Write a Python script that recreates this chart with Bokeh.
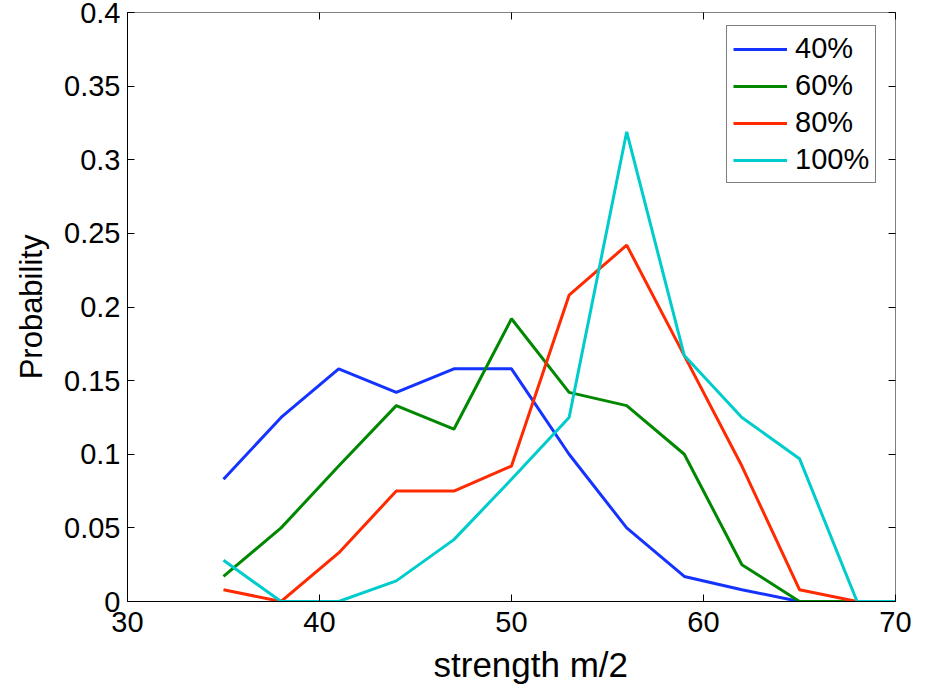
from bokeh.plotting import figure
from bokeh.models import FixedTicker, LinearAxis, Range1d, Title
from bokeh.embed import file_html
from bokeh.resources import INLINE

# ---- data ----
strength = [35, 38, 41, 44, 47, 50, 53, 56, 59, 62, 65, 68, 71]
p40 = [0.083, 0.125, 0.158, 0.142, 0.158, 0.158, 0.100, 0.050, 0.017, 0.008, 0.0, 0.0, 0.0]
p60 = [0.017, 0.050, 0.092, 0.133, 0.117, 0.192, 0.142, 0.133, 0.100, 0.025, 0.0, 0.0, 0.0]
p80 = [0.008, 0.0, 0.033, 0.075, 0.075, 0.092, 0.208, 0.242, 0.167, 0.092, 0.008, 0.0, 0.0]
p100 = [0.028, 0.0, 0.0, 0.014, 0.042, 0.083, 0.125, 0.319, 0.167, 0.125, 0.097, 0.0, 0.0]
series_names = ["40%", "60%", "80%", "100%"]
series_colors = ["#1433ff", "#008800", "#ff2a00", "#00cccc"]

x_ticks = [30, 40, 50, 60, 70]
x_tick_labels = ["30", "40", "50", "60", "70"]
y_ticks = [0, 0.05, 0.1, 0.15, 0.2, 0.25, 0.3, 0.35, 0.4]
y_tick_labels = ["0", "0.05", "0.1", "0.15", "0.2", "0.25", "0.3", "0.35", "0.4"]
x_title = "strength m/2"
y_title = "Probability"

FONT = "Liberation Sans"

p = figure(width=927, height=697, output_backend="svg", toolbar_location=None,
           x_range=Range1d(30, 70), y_range=Range1d(0, 0.4),
           min_border_left=127, min_border_right=32, min_border_top=12, min_border_bottom=96)

for ys, name, col in zip([p40, p60, p80, p100], series_names, series_colors):
    p.line(strength, ys, line_color=col, line_width=3, legend_label=name)

p.xgrid.visible = False
p.ygrid.visible = False
p.outline_line_color = "#808080"
p.outline_line_width = 1
p.background_fill_color = "white"
p.border_fill_color = "white"

def style_axis(ax, ticks, labels, show_labels=True):
    ax.ticker = FixedTicker(ticks=ticks)
    ax.major_tick_in = 7
    ax.major_tick_out = 0
    ax.minor_tick_in = 0
    ax.minor_tick_out = 0
    ax.axis_line_color = "black"
    ax.major_tick_line_color = "black"
    ax.major_label_text_font = FONT
    if show_labels:
        ax.major_label_overrides = {t: l for t, l in zip(ticks, labels)}
        ax.major_label_text_font_size = "29px"
        ax.major_label_text_color = "black"
    else:
        ax.major_label_text_font_size = "1px"
        ax.major_label_text_color = None
        ax.major_label_standoff = 0
        ax.axis_line_color = None

xa = p.xaxis[0]
style_axis(xa, x_ticks, x_tick_labels)
xa.major_label_standoff = 10

# x title: the reference places it a little right of the axis centre
xt = Title(text=x_title, align="left", offset=306,
           text_font=FONT, text_font_size="35px", text_font_style="normal",
           text_color="black", standoff=17)
p.add_layout(xt, "below")

ya = p.yaxis[0]
style_axis(ya, y_ticks, y_tick_labels)
ya.major_label_standoff = 7
ya.axis_label = y_title
ya.axis_label_text_font = FONT
ya.axis_label_text_font_size = "31px"
ya.axis_label_text_font_style = "normal"
ya.axis_label_text_color = "black"
ya.axis_label_standoff = 12

top_ax = LinearAxis()
style_axis(top_ax, x_ticks, x_tick_labels, show_labels=False)
p.add_layout(top_ax, "above")
right_ax = LinearAxis()
style_axis(right_ax, y_ticks, y_tick_labels, show_labels=False)
p.add_layout(right_ax, "right")

lg = p.legend[0]
lg.location = (599, 418)
lg.label_text_font = FONT
lg.label_text_font_size = "29px"
lg.label_text_color = "black"
lg.glyph_width = 54
lg.glyph_height = 32
lg.label_height = 32
lg.label_standoff = 8
lg.padding = 6
lg.spacing = 4
lg.margin = 0
lg.border_line_color = "black"
lg.border_line_width = 1
lg.background_fill_color = "white"
lg.background_fill_alpha = 1.0

open("out.html", "w").write(file_html(p, INLINE))
